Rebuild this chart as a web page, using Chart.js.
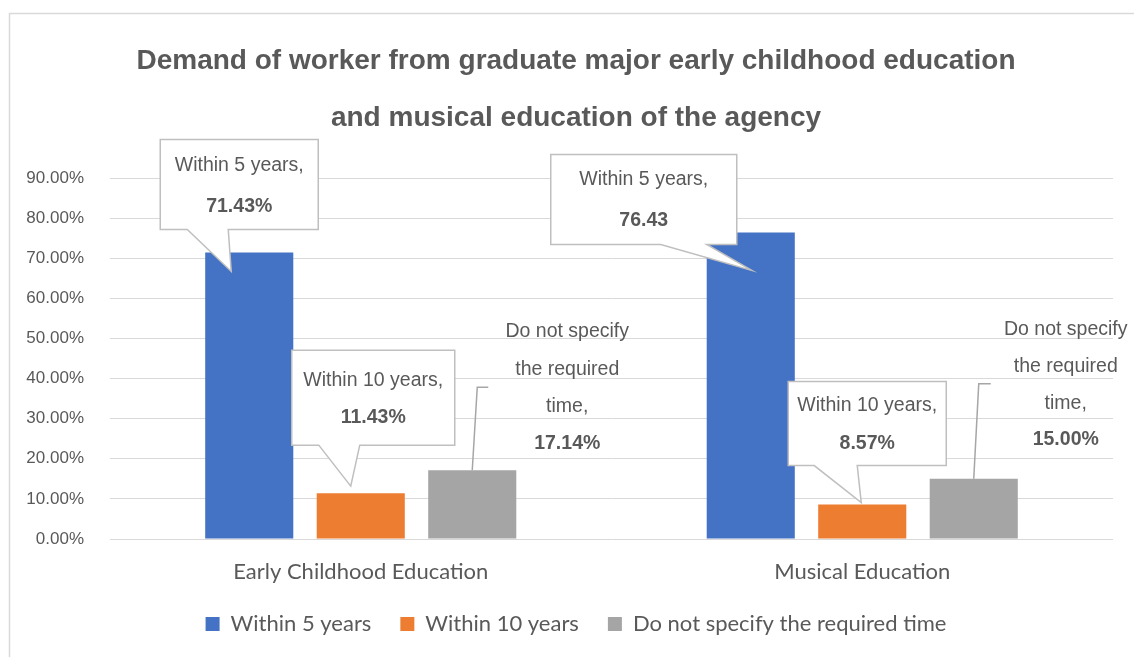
<!DOCTYPE html>
<html>
<head>
<meta charset="utf-8">
<script src="https://cdn.jsdelivr.net/npm/chart.js@4.4.0/dist/chart.umd.min.js"></script>
<style>
    html, body { margin: 0; padding: 0; background: #fff; overflow: hidden; }
    #wrap { position: relative; width: 1152px; height: 657px; }
</style>
</head>
<body>
<div id="wrap"><canvas id="demandChart"></canvas></div>
<script>
// Chart data
const categories = ['Early Childhood Education', 'Musical Education'];
const seriesNames = ['Within 5 years', 'Within 10 years', 'Do not specify the required time'];
const within5 = [71.43, 76.43];
const within10 = [11.43, 8.57];
const notSpecified = [17.14, 15.00];
const yTicks = [0, 10, 20, 30, 40, 50, 60, 70, 80, 90];

// Data label texts (as printed on the original)
const labelNames = [['Within 5 years,'], ['Within 10 years,'], ['Do not specify', 'the required', 'time,']];
const labelValues = [['71.43%', '76.43'], ['11.43%', '8.57%'], ['17.14%', '15.00%']];

const colors = ['#4472C4', '#ED7D31', '#A5A5A5'];
const textColor = '#595959';
const arial = '"Liberation Sans", Arial, sans-serif';
const calibri = 'Lato, "Open Sans", sans-serif';
const labelSize = 19.5;

// Callout boxes, placed relative to the bar top (dataset -> category)
const callouts = {
    '0-0': { left: -89, top: -113, w: 158, h: 90, baseL: 27, baseR: 68, tipX: -18, tipY: 19, l1: 26, l2: 67 },
    '1-0': { left: -69, top: -143, w: 163, h: 95, baseL: 27, baseR: 68, tipX: -10, tipY: -7, l1: 30, l2: 67 },
    '0-1': { left: -200, top: -78, w: 186, h: 90, baseL: 110, baseR: 156, tipX: 1, tipY: 38, l1: 25, l2: 66 },
    '1-1': { left: -74, top: -123, w: 158, h: 84, baseL: 26, baseR: 69, tipX: -1, tipY: -2, l1: 24, l2: 62 }
};
// Leader-line labels for the grey series
const leaders = {
    '2-0': { rise: -83, bend: 5, run: 16, cx: 95, lines: [-139, -101, -64, -27] },
    '2-1': { rise: -95, bend: 5, run: 17, cx: 92, lines: [-149, -112, -75, -39] }
};

const framePlugin = {
    id: 'frame',
    beforeDraw(chart) {
        const ctx = chart.ctx;
        ctx.save();
        ctx.fillStyle = '#fff';
        ctx.fillRect(0, 0, chart.width, chart.height);
        ctx.strokeStyle = '#d9d9d9';
        ctx.lineWidth = 1.5;
        ctx.beginPath();
        ctx.moveTo(9.5, chart.height);
        ctx.lineTo(9.5, 13.5);
        ctx.lineTo(chart.width, 13.5);
        ctx.stroke();
        ctx.restore();
    }
};

const calloutPlugin = {
    id: 'callouts',
    afterDatasetsDraw(chart) {
        const ctx = chart.ctx;
        ctx.save();
        ctx.textAlign = 'center';
        ctx.textBaseline = 'middle';
        chart.data.datasets.forEach((ds, di) => {
            chart.getDatasetMeta(di).data.forEach((bar, ci) => {
                const key = di + '-' + ci;
                const bx = bar.x, by = bar.y;
                const c = callouts[key];
                if (c) {
                    const x0 = bx + c.left, y0 = by + c.top;
                    ctx.beginPath();
                    ctx.moveTo(x0, y0);
                    ctx.lineTo(x0 + c.w, y0);
                    ctx.lineTo(x0 + c.w, y0 + c.h);
                    ctx.lineTo(x0 + c.baseR, y0 + c.h);
                    ctx.lineTo(bx + c.tipX, by + c.tipY);
                    ctx.lineTo(x0 + c.baseL, y0 + c.h);
                    ctx.lineTo(x0, y0 + c.h);
                    ctx.closePath();
                    ctx.fillStyle = '#fff';
                    ctx.fill();
                    ctx.strokeStyle = '#bfbfbf';
                    ctx.lineWidth = 1.5;
                    ctx.stroke();
                    ctx.fillStyle = textColor;
                    ctx.font = labelSize + 'px ' + arial;
                    ctx.fillText(labelNames[di][0], x0 + c.w / 2, y0 + c.l1);
                    ctx.font = 'bold ' + labelSize + 'px ' + arial;
                    ctx.fillText(labelValues[di][ci], x0 + c.w / 2, y0 + c.l2);
                }
                const l = leaders[key];
                if (l) {
                    ctx.beginPath();
                    ctx.moveTo(bx, by);
                    ctx.lineTo(bx + l.bend, by + l.rise);
                    ctx.lineTo(bx + l.run, by + l.rise);
                    ctx.strokeStyle = '#a6a6a6';
                    ctx.lineWidth = 1.5;
                    ctx.stroke();
                    ctx.fillStyle = textColor;
                    const texts = labelNames[di].concat([labelValues[di][ci]]);
                    texts.forEach((t, i) => {
                        ctx.font = (i === texts.length - 1 ? 'bold ' : '') + labelSize + 'px ' + arial;
                        ctx.fillText(t, bx + l.cx, by + l.lines[i]);
                    });
                }
            });
        });
        ctx.restore();
    }
};

const ctx = document.getElementById('demandChart').getContext('2d');
new Chart(ctx, {
    type: 'bar',
    data: {
        labels: categories,
        datasets: [within5, within10, notSpecified].map((values, i) => ({
            label: seriesNames[i],
            data: values,
            backgroundColor: colors[i],
            borderWidth: 0,
            categoryPercentage: 0.667,
            barPercentage: 0.79
        }))
    },
    options: {
        responsive: true,
        maintainAspectRatio: false,
        animation: false,
        layout: { padding: { top: 0, bottom: 12, left: 0, right: 0 } },
        plugins: {
            title: {
                display: true,
                text: ['Demand of worker from graduate major early childhood education', 'and musical education of the agency'],
                color: textColor,
                font: { family: arial, size: 28, weight: 'bold', lineHeight: 57 / 28 },
                padding: { top: 33, bottom: 31 }
            },
            legend: {
                position: 'bottom',
                labels: {
                    boxWidth: 14,
                    boxHeight: 14,
                    padding: 29,
                    color: textColor,
                    font: { family: calibri, size: 22 }
                }
            },
            tooltip: { enabled: false }
        },
        scales: {
            x: {
                grid: { display: false },
                border: { display: false },
                ticks: { color: textColor, font: { family: calibri, size: 22 }, padding: 12 },
                afterFit: s => { s.height = 45; }
            },
            y: {
                min: 0,
                max: 90,
                afterBuildTicks: s => { s.ticks = yTicks.map(v => ({ value: v })); },
                grid: { color: '#d9d9d9', lineWidth: 1, drawTicks: false },
                border: { display: false },
                ticks: {
                    color: textColor,
                    font: { family: arial, size: 17 },
                    padding: 26,
                    callback: v => v.toFixed(2) + '%'
                },
                afterFit: s => { s.width = 110; }
            },
            yRight: {
                position: 'right',
                grid: { display: false },
                border: { display: false },
                ticks: { display: false },
                afterFit: s => { s.width = 39; }
            }
        }
    },
    plugins: [framePlugin, calloutPlugin]
});
</script>
</body>
</html>
